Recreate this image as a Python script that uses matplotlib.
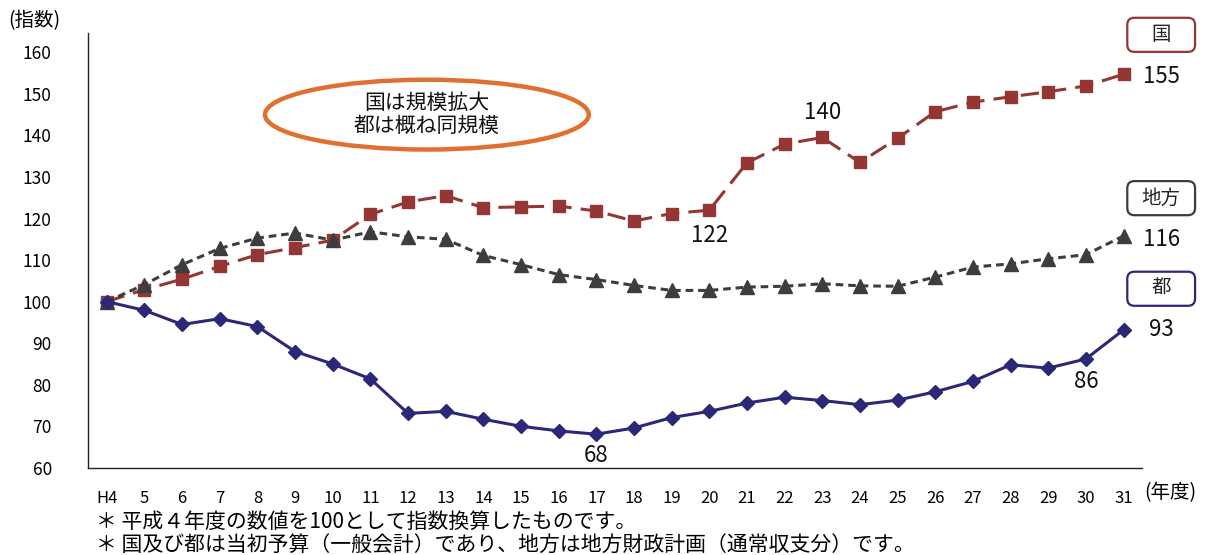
import matplotlib
matplotlib.use("Agg")
import matplotlib.pyplot as plt
from matplotlib.patches import Ellipse, FancyBboxPatch

plt.rcParams['font.family'] = ['Noto Sans CJK JP', 'DejaVu Sans']

# 年度と指数（平成4年度 = 100）
years = ["H4", "5", "6", "7", "8", "9", "10", "11", "12", "13", "14", "15", "16", "17",
         "18", "19", "20", "21", "22", "23", "24", "25", "26", "27", "28", "29", "30", "31"]
kuni = [100, 102.9, 105.4, 108.5, 111.3, 113.0, 114.8, 121.0, 124.0, 125.5, 122.6, 122.8,
        123.0, 121.8, 119.4, 121.2, 122.0, 133.4, 137.9, 139.5, 133.5, 139.3, 145.7, 148.0,
        149.3, 150.5, 151.9, 154.7]
chiho = [100, 104.1, 108.9, 112.8, 115.3, 116.5, 114.8, 116.8, 115.6, 115.0, 111.1, 108.9,
         106.5, 105.3, 103.9, 102.7, 102.7, 103.5, 103.7, 104.3, 103.8, 103.7, 105.9, 108.3,
         109.1, 110.3, 111.3, 115.8]
to = [100, 97.9, 94.5, 95.9, 94.0, 88.0, 85.0, 81.4, 73.1, 73.6, 71.7, 70.0, 68.9, 68.1,
      69.6, 72.1, 73.6, 75.6, 77.0, 76.2, 75.2, 76.3, 78.3, 80.8, 84.8, 84.0, 86.2, 93.2]

C_KUNI = "#943634"
C_CHIHO = "#3d3d3d"
C_TO = "#2b2877"

fig = plt.figure(figsize=(12.05, 5.55), dpi=100)
ax = fig.add_axes([0.073, 0.157, 0.875, 0.784])
x = list(range(len(years)))

ax.plot(x, kuni, color=C_KUNI, lw=2.2, dashes=(6, 3), marker="s", ms=8.5, zorder=3)
ax.plot(x, chiho, color=C_CHIHO, lw=2.2, dashes=(2.5, 1.6), marker="^", ms=9.5, zorder=3)
ax.plot(x, to, color=C_TO, lw=2.2, marker="D", ms=7.5, zorder=4)

ax.set_xlim(-0.5, len(years) - 0.5)
ax.set_ylim(60, 164.7)
ax.set_yticks(range(60, 161, 10))
ax.set_xticks(x)
ax.set_xticklabels(years, fontsize=12)
ax.tick_params(axis="y", length=0, pad=26, labelsize=12.5)
ax.tick_params(axis="x", length=0, pad=16)
for s in ["top", "right"]:
    ax.spines[s].set_visible(False)
for s in ["left", "bottom"]:
    ax.spines[s].set_color("#222222")
    ax.spines[s].set_linewidth(1.0)

# 数値ラベル
lab = dict(fontsize=16, color="#111111", ha="center", va="center")
ax.text(28.0, kuni[27] - 0.5, "%d" % round(kuni[27]), **lab)
ax.text(19, kuni[19] + 6.0, "%d" % round(kuni[19]), **lab)
ax.text(16, kuni[16] - 6.0, "%d" % round(kuni[16]), **lab)
ax.text(28.0, chiho[27] - 0.8, "%d" % round(chiho[27]), **lab)
ax.text(28.0, to[27], "%d" % round(to[27]), **lab)
ax.text(26, to[26] - 5.5, "%d" % round(to[26]), **lab)
ax.text(13, to[13] - 5.2, "%d" % round(to[13]), **lab)

# 系列名の枠（角丸）
bw, bh = 1.8, 8.2
for name, yc, col in [("国", 164.2, C_KUNI), ("地方", 124.9, C_CHIHO), ("都", 103.1, C_TO)]:
    box = FancyBboxPatch((28.0 - bw / 2, yc - bh / 2), bw, bh,
                         boxstyle="round,pad=0,rounding_size=0.19",
                         fc="white", ec=col, lw=1.6, clip_on=False, zorder=5,
                         mutation_aspect=9.0)
    ax.add_patch(box)
    ax.text(28.0, yc, name, fontsize=14, ha="center", va="center", color="#222222",
            zorder=6, clip_on=False)

# 注記の楕円
ax.add_patch(Ellipse((8.5, 145.0), 8.6, 16.8, fill=False, ec="#e07030", lw=3.2, zorder=2))
ax.text(8.5, 145.0, "国は規模拡大\n都は概ね同規模", fontsize=15, ha="center", va="center",
        color="#111111", linespacing=1.1)

fig.text(0.007, 0.962, "(指数)", fontsize=14, ha="left", va="center")
fig.text(0.950, 0.112, "(年度)", fontsize=14, ha="left", va="center")
fig.text(0.080, 0.060, "＊ 平成４年度の数値を100として指数換算したものです。", fontsize=15,
         ha="left", va="center")
fig.text(0.080, 0.018, "＊ 国及び都は当初予算（一般会計）であり、地方は地方財政計画（通常収支分）です。",
         fontsize=15, ha="left", va="center")

fig.savefig("out.png", dpi=100)
